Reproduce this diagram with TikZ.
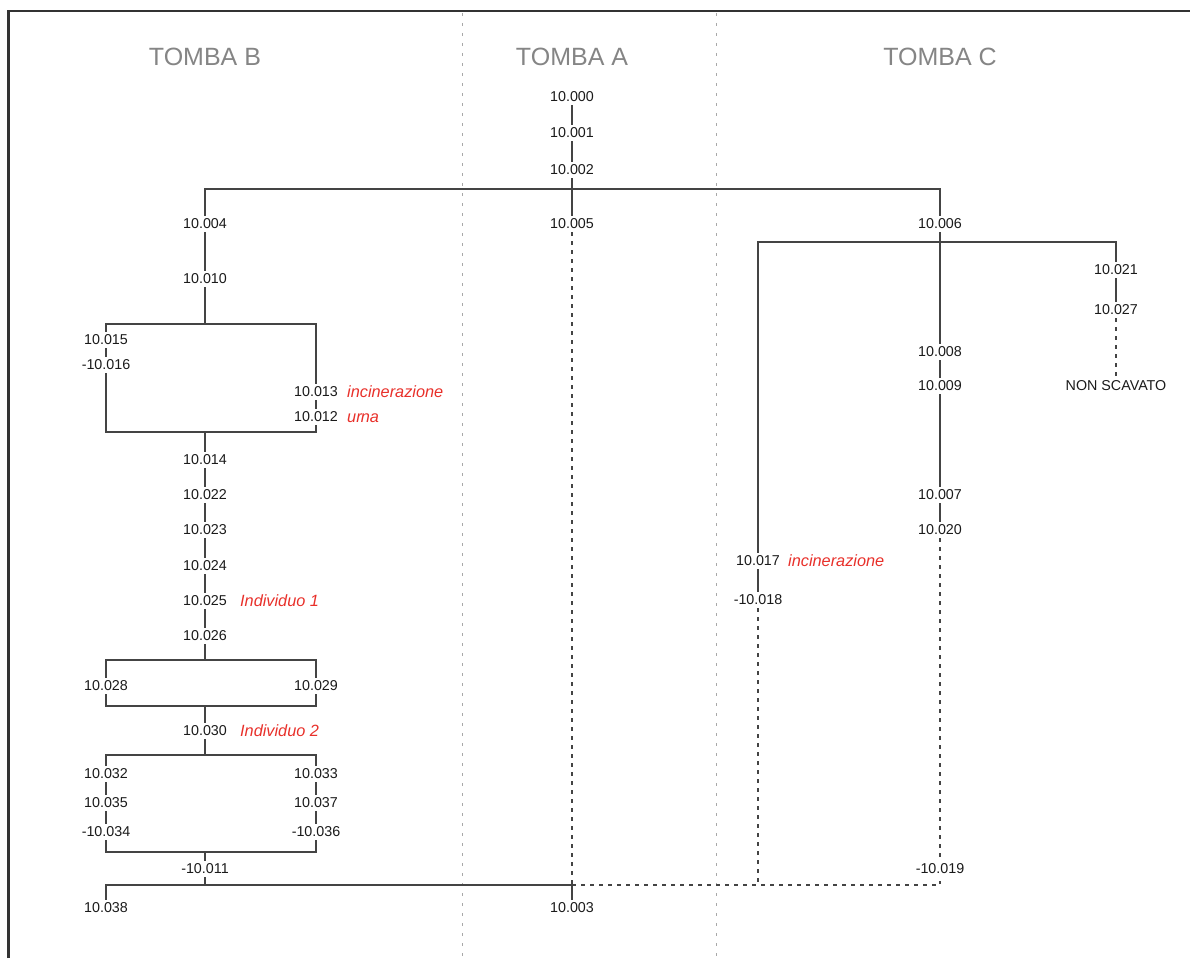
\documentclass[tikz,border=0pt]{standalone}
\usepackage{fontspec}
\setmainfont{Liberation Sans}
\definecolor{ln}{HTML}{444444}
\definecolor{tx}{HTML}{1A1A1A}
\definecolor{ttlc}{HTML}{858585}
\definecolor{rd}{HTML}{E8302A}
\definecolor{dv}{HTML}{A8A8A8}
\definecolor{fr}{HTML}{333333}
\begin{document}
\begin{tikzpicture}[x=1pt,y=-1pt,
  lbl/.style={font=\fontsize{14.3}{16}\selectfont, text=tx, inner sep=3pt},
  note/.style={font=\fontsize{16.3}{18}\selectfont\itshape, text=rd, anchor=base west, inner sep=0pt},
  ttl/.style={font=\fontsize{25}{28}\selectfont, text=ttlc},
  wire/.style={draw=ln, line width=1.4pt},
  dwire/.style={draw=ln, line width=1.4pt, dash pattern=on 3.5pt off 5.5pt},
  divider/.style={draw=dv, line width=0.9pt, dash pattern=on 3pt off 7pt},
  frameline/.style={draw=fr, line width=2.3pt}]
\useasboundingbox (0,0) rectangle (1190,958);

% frame and dividers
\draw[frameline] (8.5,958) -- (8.5,11) -- (1190,11);
\draw[divider] (462,13) -- (462,958);
\draw[divider] (716,13) -- (716,958);

% titles
\node[ttl] (tB) at (205,57) {TOMBA B};
\node[ttl] (tA) at (572,57) {TOMBA A};
\node[ttl] (tC) at (940,57) {TOMBA C};

% labels
\node[lbl] (n000) at (572,97) {10.000};
\node[lbl] (n001) at (572,133) {10.001};
\node[lbl] (n002) at (572,170) {10.002};
\node[lbl] (n005) at (572,224) {10.005};
\node[lbl] (n004) at (205,224) {10.004};
\node[lbl] (n006) at (940,224) {10.006};
\node[lbl] (n010) at (205,279) {10.010};
\node[lbl] (n015) at (106,340) {10.015};
\node[lbl] (n016) at (106,365) {-10.016};
\node[lbl] (n013) at (316,392) {10.013};
\node[lbl] (n012) at (316,417) {10.012};
\node[lbl] (n014) at (205,460) {10.014};
\node[lbl] (n022) at (205,495) {10.022};
\node[lbl] (n023) at (205,530) {10.023};
\node[lbl] (n024) at (205,566) {10.024};
\node[lbl] (n025) at (205,601) {10.025};
\node[lbl] (n026) at (205,636) {10.026};
\node[lbl] (n028) at (106,686) {10.028};
\node[lbl] (n029) at (316,686) {10.029};
\node[lbl] (n030) at (205,731) {10.030};
\node[lbl] (n032) at (106,774) {10.032};
\node[lbl] (n035) at (106,803) {10.035};
\node[lbl] (n034) at (106,832) {-10.034};
\node[lbl] (n033) at (316,774) {10.033};
\node[lbl] (n037) at (316,803) {10.037};
\node[lbl] (n036) at (316,832) {-10.036};
\node[lbl] (n011) at (205,869) {-10.011};
\node[lbl] (n038) at (106,908) {10.038};
\node[lbl] (n003) at (572,908) {10.003};
\node[lbl] (n021) at (1116,270) {10.021};
\node[lbl] (n027) at (1116,310) {10.027};
\node[lbl] (nns) at (1116,386) {NON SCAVATO};
\node[lbl] (n008) at (940,352) {10.008};
\node[lbl] (n009) at (940,386) {10.009};
\node[lbl] (n007) at (940,495) {10.007};
\node[lbl] (n020) at (940,530) {10.020};
\node[lbl] (n017) at (758,561) {10.017};
\node[lbl] (n018) at (758,600) {-10.018};
\node[lbl] (n019) at (940,869) {-10.019};

% annotations
\node[note] (a1) at (347,397) {incinerazione};
\node[note] (a2) at (347,422) {ur\kern-0.9pt na};
\node[note] (a3) at (240,606) {Individuo 1};
\node[note] (a4) at (240,736) {Individuo 2};
\node[note] (a5) at (788,566) {incinerazione};

% junction points
\coordinate (hB) at (205,189);
\coordinate (hC) at (940,189);
\coordinate (b1t) at (205,324);
\coordinate (b1tl) at (106,324);
\coordinate (b1tr) at (316,324);
\coordinate (b1b) at (205,432);
\coordinate (b1bl) at (106,432);
\coordinate (b1br) at (316,432);
\coordinate (b2t) at (205,660);
\coordinate (b2tl) at (106,660);
\coordinate (b2tr) at (316,660);
\coordinate (b2b) at (205,706);
\coordinate (b2bl) at (106,706);
\coordinate (b2br) at (316,706);
\coordinate (b3t) at (205,755);
\coordinate (b3tl) at (106,755);
\coordinate (b3tr) at (316,755);
\coordinate (b3b) at (205,852);
\coordinate (b3bl) at (106,852);
\coordinate (b3br) at (316,852);
\coordinate (bl) at (106,885);
\coordinate (bm) at (205,885);
\coordinate (ba) at (572,885);
\coordinate (b18) at (758,885);
\coordinate (bc) at (940,885);
\coordinate (cL) at (758,242);
\coordinate (cR) at (1116,242);

% Tomba A
\draw[wire] (n000) -- (n001);
\draw[wire] (n001) -- (n002);
\draw[wire] (n002) -- (n005);
\draw[wire] (n004) -- (hB) -- (hC) -- (n006);
\draw[dwire] (n005) -- (ba);

% Tomba B
\draw[wire] (n004) -- (n010);
\draw[wire] (n010) -- (b1t);
\draw[wire] (n015) -- (b1tl) -- (b1tr) -- (n013);
\draw[wire] (n015) -- (n016);
\draw[wire] (n013) -- (n012);
\draw[wire] (n016) -- (b1bl) -- (b1br) -- (n012);
\draw[wire] (b1b) -- (n014);
\draw[wire] (n014) -- (n022);
\draw[wire] (n022) -- (n023);
\draw[wire] (n023) -- (n024);
\draw[wire] (n024) -- (n025);
\draw[wire] (n025) -- (n026);
\draw[wire] (n026) -- (b2t);
\draw[wire] (n028) -- (b2tl) -- (b2tr) -- (n029);
\draw[wire] (n028) -- (b2bl) -- (b2br) -- (n029);
\draw[wire] (b2b) -- (n030);
\draw[wire] (n030) -- (b3t);
\draw[wire] (n032) -- (b3tl) -- (b3tr) -- (n033);
\draw[wire] (n032) -- (n035);
\draw[wire] (n035) -- (n034);
\draw[wire] (n033) -- (n037);
\draw[wire] (n037) -- (n036);
\draw[wire] (n034) -- (b3bl) -- (b3br) -- (n036);
\draw[wire] (b3b) -- (n011);
\draw[wire] (n011) -- (bm);
\draw[wire] (n038) -- (bl) -- (ba) -- (n003);

% Tomba C
\draw[wire] (n006) -- (n008);
\draw[wire] (n017) -- (cL) -- (cR) -- (n021);
\draw[wire] (n021) -- (n027);
\draw[dwire] (n027) -- (nns);
\draw[wire] (n008) -- (n009);
\draw[wire] (n009) -- (n007);
\draw[wire] (n007) -- (n020);
\draw[dwire] (n020) -- (n019);
\draw[wire] (n017) -- (n018);
\draw[dwire] (n018) -- (b18);
\draw[dwire] (ba) -- (bc) -- (n019);
\end{tikzpicture}
\end{document}
